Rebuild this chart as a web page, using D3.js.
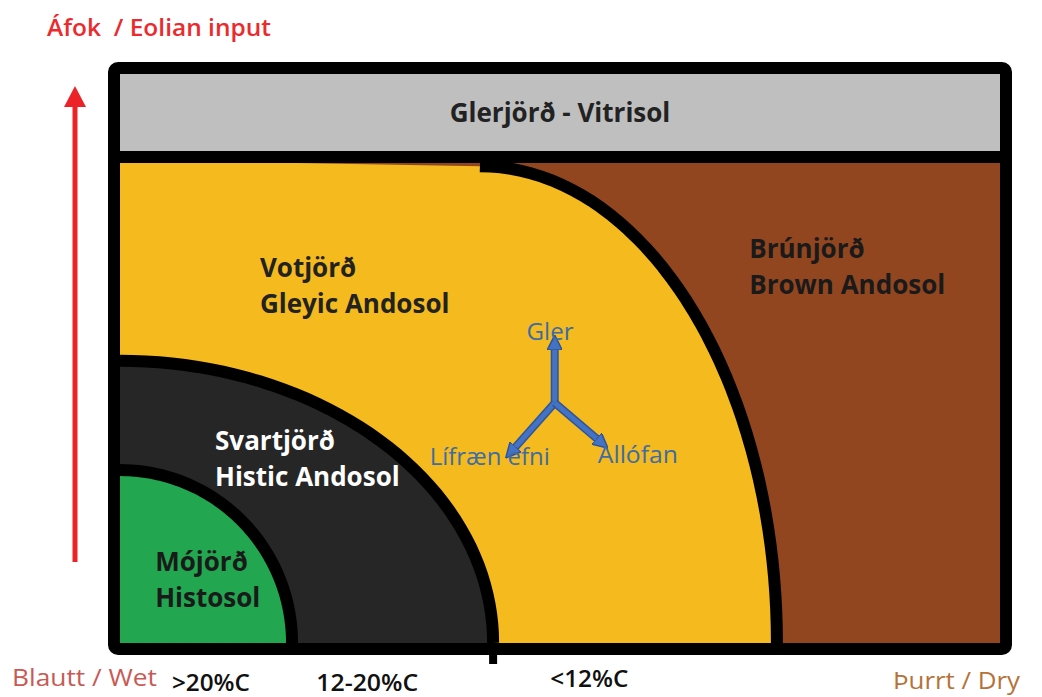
<!DOCTYPE html>
<html>
<head>
<meta charset="utf-8">
<script src="https://cdn.jsdelivr.net/npm/d3@7"></script>
<style>
  body { margin: 0; background: #fff; }
  text { font-family: "Open Sans", Lato, sans-serif; }
</style>
</head>
<body>
<div id="chart"></div>
<script>
// Soil zones: quarter ellipses, in units of the frame (x: wet -> dry, y: eolian input)
var zoneNames = ['Brúnjörð', 'Votjörð', 'Svartjörð', 'Mójörð'];
var zoneColors = ['#924620', '#f4ba1e', '#262626', '#22a650'];
// centre x, radius x, radius y of each boundary (0..1 of frame)
var boundCx = [0.409, 0, 0];
var boundRx = [0.3375, 0.424, 0.1955];
var boundRy = [0.838, 0.496, 0.304];
var glassBand = [0.859, 1]; // Glerjörð band, top of the frame

var zoneLabels = [
    { lines: ['Glerjörð - Vitrisol'], x: 0.5, y: 0.915, anchor: 'middle', color: '#222' },
    { lines: ['Votjörð', 'Gleyic Andosol'], x: 0.159, y: 0.644, color: '#222' },
    { lines: ['Brúnjörð', 'Brown Andosol'], x: 0.715, y: 0.677, color: '#1a1a1a' },
    { lines: ['Svartjörð', 'Histic Andosol'], x: 0.108, y: 0.339, color: '#fff' },
    { lines: ['Mójörð', 'Histosol'], x: 0.040, y: 0.127, color: '#1a1a1a' }
];
var componentNames = ['Gler', 'Lífræn efni', 'Allófan'];
var carbonLabels = ['>20%C', '12-20%C', '<12%C'];

var width = 1042, height = 697;
var svg = d3.select('#chart').append('svg')
    .attr('width', width)
    .attr('height', height);

var x = d3.scaleLinear().domain([0, 1]).range([120, 1000]);
var y = d3.scaleLinear().domain([0, 1]).range([643, 74]);
var bandY = (y(glassBand[0]) + 160) / 2;

// points along a quarter ellipse from the top end to the bottom end
function quarter(i) {
    return d3.range(0, 91, 2).map(function(a) {
        var t = a * Math.PI / 180;
        return [boundCx[i] + boundRx[i] * Math.sin(t), boundRy[i] * Math.cos(t)];
    });
}
var line = d3.line()
    .x(function(d) { return x(d[0]); })
    .y(function(d) { return y(d[1]); });

// background of the lower part: brown
svg.append('rect')
    .attr('x', x(0)).attr('y', 160)
    .attr('width', x(1) - x(0)).attr('height', y(0) - 160)
    .attr('fill', zoneColors[0]);

// yellow zone left of the brown curve
var yellowPts = [[0, y.invert(160)]].concat(quarter(0)).concat([[0, 0]]);
svg.append('path')
    .attr('d', line(yellowPts) + 'Z')
    .attr('fill', zoneColors[1]);

// dark and green quarter ellipses
[1, 2].forEach(function(i) {
    svg.append('path')
        .attr('d', line([[0, 0]].concat(quarter(i))) + 'Z')
        .attr('fill', zoneColors[i + 1]);
});

// black boundary lines
[0, 1, 2].forEach(function(i) {
    svg.append('path')
        .attr('d', line(quarter(i)))
        .attr('fill', 'none')
        .attr('stroke', '#000')
        .attr('stroke-width', 12);
});
// little overshoot of the Svartjörð line below the frame
svg.append('line')
    .attr('x1', x(boundRx[1])).attr('x2', x(boundRx[1]))
    .attr('y1', y(0)).attr('y2', y(0) + 21)
    .attr('stroke', '#000').attr('stroke-width', 8);

// glass band
svg.append('rect')
    .attr('x', x(0)).attr('y', y(1))
    .attr('width', x(1) - x(0)).attr('height', y(glassBand[0]) - y(1))
    .attr('fill', '#bfbfbf');
svg.append('line')
    .attr('x1', x(0)).attr('x2', x(1))
    .attr('y1', bandY).attr('y2', bandY)
    .attr('stroke', '#000').attr('stroke-width', 12);

// outer frame
svg.append('rect')
    .attr('x', x(0) - 6).attr('y', y(1) - 6)
    .attr('width', x(1) - x(0) + 12).attr('height', y(0) - y(1) + 12)
    .attr('rx', 4)
    .attr('fill', 'none')
    .attr('stroke', '#000')
    .attr('stroke-width', 12);

// zone labels
zoneLabels.forEach(function(l) {
    var t = svg.append('text')
        .attr('x', x(l.x))
        .attr('y', y(l.y))
        .attr('text-anchor', l.anchor || 'start')
        .attr('fill', l.color)
        .attr('font-size', 26)
        .attr('font-weight', 'bold');
    l.lines.forEach(function(s, k) {
        t.append('tspan')
            .attr('x', x(l.x))
            .attr('dy', k === 0 ? 0 : 36)
            .text(s);
    });
});

// component arrows (Y shape)
var hub = [0.494, 0.422];
var tips = [[0.494, 0.528], [0.444, 0.335], [0.548, 0.351]];
var blue = '#4472c4';
svg.append('defs').append('marker')
    .attr('id', 'head')
    .attr('viewBox', '0 0 10 10')
    .attr('refX', 5).attr('refY', 5)
    .attr('markerWidth', 3).attr('markerHeight', 3)
    .attr('orient', 'auto')
    .append('path')
    .attr('d', 'M0,0L10,5L0,10Z')
    .attr('fill', blue)
    .attr('stroke', '#2f5597')
    .attr('stroke-width', 1);
tips.forEach(function(tp) {
    svg.append('line')
        .attr('x1', x(hub[0])).attr('y1', y(hub[1]))
        .attr('x2', x(tp[0])).attr('y2', y(tp[1]))
        .attr('stroke', '#2f5597')
        .attr('stroke-width', 8);
    svg.append('line')
        .attr('x1', x(hub[0])).attr('y1', y(hub[1]))
        .attr('x2', x(tp[0])).attr('y2', y(tp[1]))
        .attr('stroke', blue)
        .attr('stroke-width', 5)
        .attr('marker-end', 'url(#head)');
});
var compPos = [[0.462, 0.532], [0.352, 0.312], [0.543, 0.316]];
var compLen = [47, 120, 80];
componentNames.forEach(function(s, i) {
    svg.append('text')
        .attr('x', x(compPos[i][0]))
        .attr('y', y(compPos[i][1]))
        .attr('fill', '#3d6ca6')
        .attr('font-size', 23)
        .attr('textLength', compLen[i])
        .attr('lengthAdjust', 'spacingAndGlyphs')
        .text(s);
});

// eolian input arrow
svg.append('line')
    .attr('x1', 75).attr('x2', 75)
    .attr('y1', 562).attr('y2', 104)
    .attr('stroke', '#ec2229').attr('stroke-width', 5);
svg.append('path')
    .attr('d', 'M75,86L64,107L86,107Z')
    .attr('fill', '#ec2229');
svg.append('text')
    .attr('x', 47).attr('y', 36)
    .attr('fill', '#ec2a2e')
    .attr('font-size', 23.5)
    .attr('font-weight', 600)
    .attr('xml:space', 'preserve')
    .attr('textLength', 224)
    .attr('lengthAdjust', 'spacingAndGlyphs')
    .text('Áfok  / Eolian input');

// bottom axis texts
svg.append('text')
    .attr('x', 12).attr('y', 686)
    .attr('fill', '#c85a56')
    .attr('font-size', 24)
    .attr('textLength', 145)
    .attr('lengthAdjust', 'spacingAndGlyphs')
    .text('Blautt / Wet');
svg.append('text')
    .attr('x', 893).attr('y', 689)
    .attr('fill', '#b5733a')
    .attr('font-size', 24)
    .attr('xml:space', 'preserve')
    .attr('textLength', 127)
    .attr('lengthAdjust', 'spacingAndGlyphs')
    .text('Þurrt / Dry');
var carbonX = [0.059, 0.223, 0.489];
var carbonY = [691, 691, 687];
var carbonLen = [78, 102, 78];
carbonLabels.forEach(function(s, i) {
    svg.append('text')
        .attr('x', x(carbonX[i]))
        .attr('y', carbonY[i])
        .attr('fill', '#111')
        .attr('font-size', 23)
        .attr('font-weight', 600)
        .attr('textLength', carbonLen[i])
        .attr('lengthAdjust', 'spacingAndGlyphs')
        .text(s);
});
</script>
</body>
</html>
